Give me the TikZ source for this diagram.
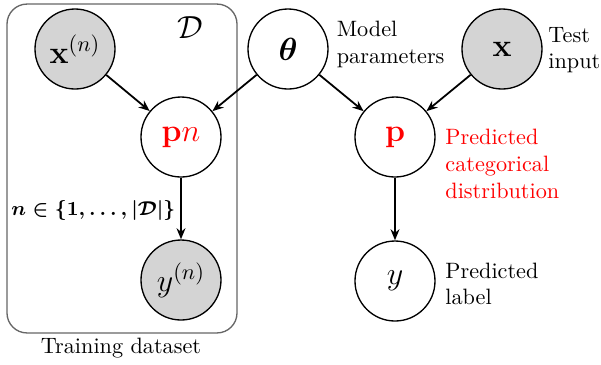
\documentclass[tikz,border=0pt]{standalone}
\usepackage{amsmath}
\usepackage{amsfonts}
\usetikzlibrary{arrows.meta}
\tikzset{latent/.style = {draw, fill=white, semithick, circle, minimum size=36pt, inner sep=0pt, font=\Large},
         observed/.style = {latent, fill=black!17},
         plate/.style = {draw=black!60, semithick, rectangle, rounded corners=9pt, minimum width=103.5pt, minimum height=148pt},
         note/.style = {anchor=west, align=left},
         edge/.style = {-{Stealth[length=5pt,width=4pt]}, thick}}

\begin{document}
\begin{tikzpicture}[x=0.45pt,y=-0.45pt]
        \useasboundingbox (0,0) rectangle (601,364);
        % training plate
        \node[plate] (data) at (122,168.5) {};
        \node (dname) at (190,28) {\Large$\mathcal{D}$};
        \node[note, font=\small] (range) at (3.5,210) {$\boldsymbol{n \in \{1,\dots,\lvert\mathcal{D}\rvert\}}$};
        \node (train) at (121,348.5) {Training dataset};

        \node[observed] (xn) at (75,49) {$\mathbf{x}^{(n)}$};
        \node[latent] (theta) at (288,49) {$\boldsymbol{\theta}$};
        \node[observed] (xtest) at (502,49) {$\mathbf{x}$};
        \node[latent] (pn) at (181,137) {\color{red}$\mathbf{p}n$};
        \node[latent] (p) at (395,137) {\color{red}$\mathbf{p}$};
        \node[observed] (yn) at (181,280) {$y^{(n)}$};
        \node[latent] (y) at (395,281) {$y$};

        \node[note] (thetalbl) at (329,44.5) {Model\\parameters};
        \node[note] (xtestlbl) at (540.6,50) {Test\\input};
        \node[note, text=red] (plbl) at (437.6,164) {Predicted\\categorical\\distribution};
        \node[note] (ylbl) at (437.6,284) {Predicted\\label};

        \draw[edge](xn)--(pn);
        \draw[edge](theta)--(pn);
        \draw[edge](theta)--(p);
        \draw[edge](xtest)--(p);
        \draw[edge](pn)--(yn);
        \draw[edge](p)--(y);
    \end{tikzpicture}
\end{document}
